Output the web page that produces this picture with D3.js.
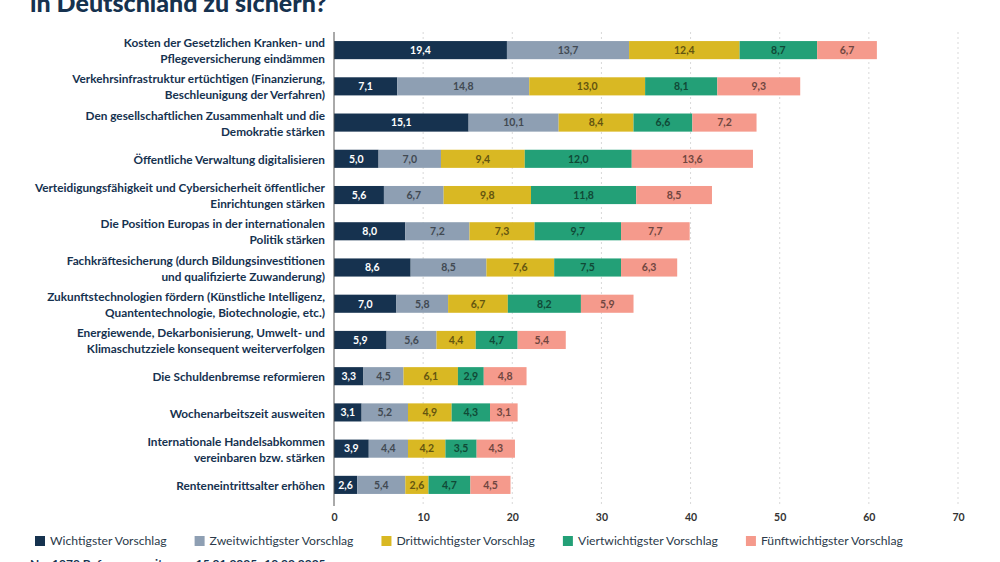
<!DOCTYPE html>
<html lang="de">
<head>
<meta charset="UTF-8" />
<title>Vorschläge – gestapelte Balken</title>
<style>
  html, body { margin: 0; padding: 0; background: #fff; }
  svg { display: block; font-family: Lato, "Open Sans", sans-serif; }
</style>
</head>
<body>
<script src="https://cdn.jsdelivr.net/npm/d3@7"></script>
<div id="app"></div>
<script>
// DATEN
const kategorien = [
  "Kosten der Gesetzlichen Kranken- und|Pflegeversicherung eindämmen",
  "Verkehrsinfrastruktur ertüchtigen (Finanzierung,|Beschleunigung der Verfahren)",
  "Den gesellschaftlichen Zusammenhalt und die|Demokratie stärken",
  "Öffentliche Verwaltung digitalisieren",
  "Verteidigungsfähigkeit und Cybersicherheit öffentlicher|Einrichtungen stärken",
  "Die Position Europas in der internationalen|Politik stärken",
  "Fachkräftesicherung (durch Bildungsinvestitionen|und qualifizierte Zuwanderung)",
  "Zukunftstechnologien fördern (Künstliche Intelligenz,|Quantentechnologie, Biotechnologie, etc.)",
  "Energiewende, Dekarbonisierung, Umwelt- und|Klimaschutzziele konsequent weiterverfolgen",
  "Die Schuldenbremse reformieren",
  "Wochenarbeitszeit ausweiten",
  "Internationale Handelsabkommen|vereinbaren bzw. stärken",
  "Renteneintrittsalter erhöhen"
];
const wichtigster =       [19.4,  7.1, 15.1,  5.0,  5.6, 8.0, 8.6, 7.0, 5.9, 3.3, 3.1, 3.9, 2.6];
const zweitwichtigster =  [13.7, 14.8, 10.1,  7.0,  6.7, 7.2, 8.5, 5.8, 5.6, 4.5, 5.2, 4.4, 5.4];
const drittwichtigster =  [12.4, 13.0,  8.4,  9.4,  9.8, 7.3, 7.6, 6.7, 4.4, 6.1, 4.9, 4.2, 2.6];
const viertwichtigster =  [ 8.7,  8.1,  6.6, 12.0, 11.8, 9.7, 7.5, 8.2, 4.7, 2.9, 4.3, 3.5, 4.7];
const fuenftwichtigster = [ 6.7,  9.3,  7.2, 13.6,  8.5, 7.7, 6.3, 5.9, 5.4, 4.8, 3.1, 4.3, 4.5];
const serien = ["Wichtigster Vorschlag", "Zweitwichtigster Vorschlag", "Drittwichtigster Vorschlag",
                "Viertwichtigster Vorschlag", "Fünftwichtigster Vorschlag"];
const xTicks = [0, 10, 20, 30, 40, 50, 60, 70];

const farben = ["#16324f", "#8e9fb3", "#d9b823", "#23a077", "#f59a8c"];
const navy = "#16324f";

//SVG
const w = 1000, h = 562;
const svg = d3.select("#app").append("svg").attr("width", w).attr("height", h);

// Tabelle für d3.stack
const tabelle = kategorien.map((k, i) => ({
  kat: k,
  [serien[0]]: wichtigster[i],
  [serien[1]]: zweitwichtigster[i],
  [serien[2]]: drittwichtigster[i],
  [serien[3]]: viertwichtigster[i],
  [serien[4]]: fuenftwichtigster[i]
}));
const stapel = d3.stack().keys(serien)(tabelle);

//Escalas
const xScale = d3.scaleLinear().domain([0, 70]).range([334, 958]);
const yScale = d3.scaleBand().domain(kategorien).range([32, 503])
  .paddingInner(0.5).paddingOuter(0.25);
const color = d3.scaleOrdinal().domain(serien).range(farben);

// Titel (nur zweite Zeile sichtbar)
svg.append("text")
  .attr("x", 30).attr("y", 12)
  .attr("font-size", 25).attr("font-weight", 900)
  .attr("fill", navy)
  .text("in Deutschland zu sichern?");

// Gitterlinien
svg.append("g").selectAll("line")
  .data(xTicks.filter(t => t > 0))
  .enter().append("line")
  .attr("x1", d => xScale(d)).attr("x2", d => xScale(d))
  .attr("y1", 32).attr("y2", 506)
  .attr("stroke", "#d9d9d9").attr("stroke-dasharray", "2,3").attr("stroke-width", 1);

// Balken
const gruppen = svg.append("g").selectAll("g")
  .data(stapel).enter().append("g")
  .attr("fill", d => color(d.key));

gruppen.selectAll("rect")
  .data(d => d.map(v => ({ key: d.key, v })))
  .enter().append("rect")
  .attr("x", d => xScale(d.v[0]))
  .attr("y", d => yScale(d.v.data.kat))
  .attr("width", d => xScale(d.v[1]) - xScale(d.v[0]))
  .attr("height", yScale.bandwidth());

gruppen.selectAll("text")
  .data(d => d.map(v => ({ key: d.key, v })))
  .enter().append("text")
  .attr("x", d => (xScale(d.v[0]) + xScale(d.v[1])) / 2)
  .attr("y", d => yScale(d.v.data.kat) + yScale.bandwidth() / 2)
  .attr("dy", "0.36em")
  .attr("text-anchor", "middle")
  .attr("font-size", 10.5).attr("font-weight", 700)
  .attr("fill", d => d.key === serien[0] ? "#ffffff" : d3.color(color(d.key)).darker(2.2))
  .text(d => d3.format(".1f")(d.v[1] - d.v[0]).replace(".", ","));

// Kategorien
const katLabels = svg.append("g").selectAll("text")
  .data(kategorien).enter().append("text")
  .attr("text-anchor", "end")
  .attr("font-size", 11.8).attr("font-weight", 700)
  .attr("fill", navy);
katLabels.each(function (k) {
  const zeilen = k.split("|");
  const mitte = yScale(k) + yScale.bandwidth() / 2;
  d3.select(this).selectAll("tspan")
    .data(zeilen).enter().append("tspan")
    .attr("x", 325)
    .attr("y", (z, i) => mitte + 1 + (i - (zeilen.length - 1) / 2) * 16)
    .attr("dy", "0.35em")
    .text(z => z);
});

// AXIS
svg.append("line")
  .attr("x1", xScale(0)).attr("x2", xScale(0))
  .attr("y1", 32).attr("y2", 506)
  .attr("stroke", "#555").attr("stroke-width", 1);

const xAxis = d3.axisBottom(xScale).tickValues(xTicks).tickSize(0).tickPadding(8);
const ax = svg.append("g").attr("transform", "translate(0,506)").call(xAxis);
ax.select(".domain").remove();
ax.selectAll("text").attr("font-size", 10.5).attr("font-weight", 700)
  .attr("fill", "#333").attr("font-family", "Lato, sans-serif");

// Legende
const legende = svg.append("g").attr("transform", "translate(35,541)");
let lx = 0;
serien.forEach(s => {
  legende.append("rect").attr("x", lx).attr("y", -5).attr("width", 10).attr("height", 10)
    .attr("fill", color(s));
  const t = legende.append("text").attr("x", lx + 15).attr("y", 0).attr("dy", "0.35em")
    .attr("font-size", 12.2).attr("fill", "#2b3a4a").text(s);
  lx += 15 + t.node().getComputedTextLength() + 28;
});

// Fußnote (abgeschnitten)
svg.append("text")
  .attr("x", 30).attr("y", 568)
  .attr("font-size", 12).attr("font-weight", 700).attr("fill", navy)
  .text("N = 1070 Befragungszeitraum: 15.01.2025–10.02.2025");
</script>
</body>
</html>
